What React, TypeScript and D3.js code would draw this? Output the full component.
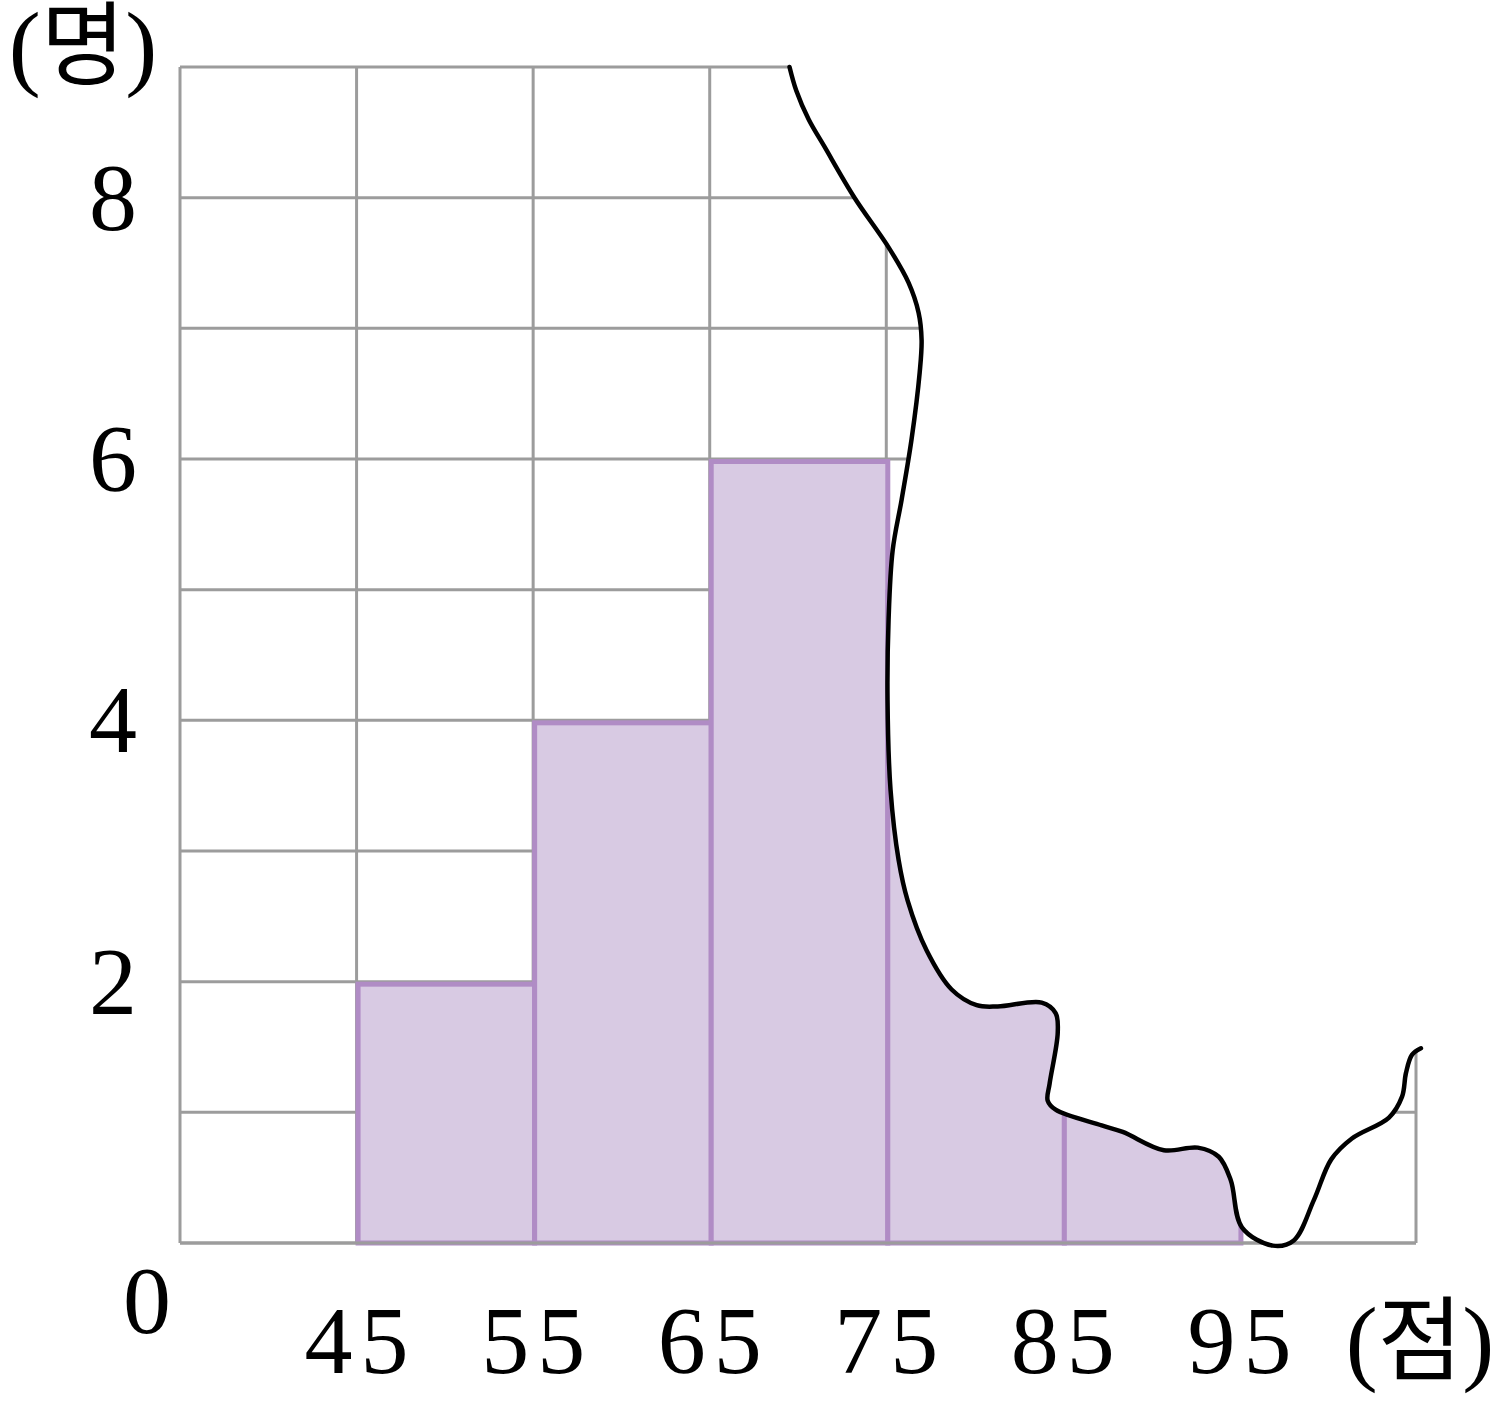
import React from "react";
import * as d3 from "d3";

// ---- data ----
const classStarts = [35, 45, 55, 65, 75, 85, 95];
const classWidth = 10;
const counts = [0, 2, 4, 6, 5, 3, 0];
const xTickLabels = [45, 55, 65, 75, 85, 95];
const yTickLabels = [2, 4, 6, 8];
const yGridLines = [0, 1, 2, 3, 4, 5, 6, 7, 8, 9];
const xGridLines = [35, 45, 55, 65, 75, 85, 95, 105];
const yUnitHangul = "명";
const xUnitHangul = "점";

// torn-paper edge, in data units (score, count)
const tearScore = [
  69.52, 69.9, 70.6, 71.5, 73.2, 75.13, 76.26, 76.83, 77.0, 76.89, 76.43, 75.87, 75.36,
  75.13, 75.07, 75.24, 75.7, 76.21, 77.28, 78.7, 80.12, 81.31, 83.8, 84.59, 84.71,
  84.25, 84.14, 84.59, 87.2, 88.39, 90.72, 92.64, 93.83, 94.51, 95.14, 96.89, 98.08,
  99.22, 100.2, 101.37, 103.47, 104.21, 104.43, 104.77, 105.28,
];
const tearCount = [
  9.0, 8.82, 8.6, 8.39, 8.0, 7.62, 7.35, 7.12, 6.91, 6.66, 6.15, 5.69, 5.3,
  4.77, 4.16, 3.47, 2.93, 2.62, 2.24, 1.94, 1.82, 1.81, 1.84, 1.76, 1.61,
  1.22, 1.09, 1.02, 0.9, 0.85, 0.71, 0.73, 0.66, 0.48, 0.12, -0.02, 0.02,
  0.33, 0.64, 0.8, 0.96, 1.12, 1.3, 1.44, 1.49,
];

const W = 1501;
const H = 1401;

export default function App() {
  const x = d3.scaleLinear().domain([35, 105]).range([180, 1416]);
  const y = d3.scaleLinear().domain([0, 9]).range([1243, 67]);

  const gridColor = "#9c9c9c";
  const fontFam = "'Liberation Serif', 'DejaVu Serif', 'Noto Sans CJK KR', serif";
  const cjk = "'Noto Sans CJK KR', sans-serif";

  const tearPts: [number, number][] = tearScore.map((s, i) => [s, tearCount[i]]);
  const line = d3
    .line<[number, number]>()
    .x((d) => x(d[0]))
    .y((d) => y(d[1]))
    .curve(d3.curveCatmullRom.alpha(0.5));
  const tearLine = line(tearPts) || "";
  const last = tearPts[tearPts.length - 1];
  const first = tearPts[0];
  const coverPath =
    tearLine +
    `L${x(112)},${y(last[1])}L${x(112)},${y(10)}L${x(first[0])},${y(10)}Z`;

  return (
    <svg
      width={W}
      height={H}
      style={{ position: "absolute", left: 0, top: 0, background: "#fff" }}
    >
      <rect x={0} y={0} width={W} height={H} fill="#fff" />
      {/* grid */}
      <g stroke={gridColor} strokeWidth={3}>
        {yGridLines.map((v) => (
          <line key={"h" + v} x1={x(35)} x2={x(105)} y1={y(v)} y2={y(v)} />
        ))}
        {xGridLines.map((v) => (
          <line key={"v" + v} x1={x(v)} x2={x(v)} y1={y(0)} y2={y(9)} />
        ))}
      </g>
      {/* bars */}
      <g fill="#d8cae3" stroke="#b08cc5" strokeWidth={5}>
        {classStarts.map((s, i) =>
          counts[i] > 0 ? (
            <rect
              key={"b" + s}
              x={x(s) + 1.5}
              y={y(counts[i]) + 2.5}
              width={x(s + classWidth) - x(s)}
              height={y(0) - y(counts[i]) - 2.5}
            />
          ) : null
        )}
      </g>
      <line x1={x(35)} x2={x(105)} y1={y(0)} y2={y(0)} stroke={gridColor} strokeWidth={3} />
      {/* torn region */}
      <path d={coverPath} fill="#fff" stroke="none" />
      <path d={tearLine} fill="none" stroke="#000" strokeWidth={4.5} strokeLinecap="round" />
      {/* labels */}
      <g fontFamily={fontFam} fontSize={96} fill="#000">
        {yTickLabels.map((v) => (
          <text key={"yl" + v} x={113} y={y(v) + 32} textAnchor="middle">
            {v}
          </text>
        ))}
        <text x={147} y={1333} textAnchor="middle">0</text>
        {xTickLabels.map((v) => (
          <text
            key={"xl" + v}
            x={x(v) + 4}
            y={1373}
            textAnchor="middle"
            letterSpacing={8}
          >
            {v}
          </text>
        ))}
        <text x={1420} y={1373} textAnchor="middle">
          (<tspan fontFamily={cjk} fontSize={92}>{xUnitHangul}</tspan>)
        </text>
        <text x={83} y={78} textAnchor="middle">
          (<tspan fontFamily={cjk} fontSize={92}>{yUnitHangul}</tspan>)
        </text>
      </g>
    </svg>
  );
}
